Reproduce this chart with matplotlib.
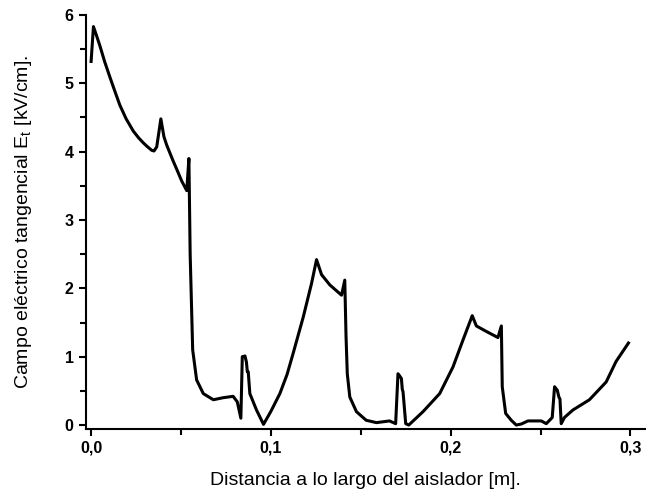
import matplotlib.pyplot as plt
from matplotlib.ticker import MultipleLocator, FuncFormatter

# distance along the insulator [m]
distancia = [
    0.0, 0.0013, 0.003, 0.005, 0.0075, 0.0106, 0.013, 0.016, 0.0195, 0.0235,
    0.0265, 0.029, 0.031, 0.0337, 0.035, 0.0365, 0.0388, 0.0405, 0.042, 0.044,
    0.0457, 0.048, 0.0504, 0.0532, 0.0544, 0.0551, 0.0565, 0.0587,
    0.0624, 0.068, 0.0735, 0.079, 0.0813, 0.0833, 0.0841, 0.0856, 0.0864,
    0.0869, 0.0874, 0.0883, 0.092, 0.0959, 0.1, 0.105, 0.109, 0.1124, 0.118,
    0.1226, 0.1254, 0.1282, 0.1328, 0.1393, 0.1411, 0.1418, 0.1425, 0.1439,
    0.1476, 0.153, 0.1587, 0.166, 0.1694, 0.1707, 0.1716, 0.1726, 0.1731,
    0.1735, 0.175, 0.1767, 0.1846, 0.1939, 0.2013, 0.2068, 0.212, 0.2143,
    0.2198, 0.2263, 0.2282, 0.2287, 0.2306, 0.2337, 0.2365, 0.2393, 0.243,
    0.2504, 0.2532, 0.2565, 0.2578, 0.2593, 0.2602, 0.2608, 0.2615, 0.2633,
    0.268, 0.2772, 0.2865, 0.292, 0.2989,
]

# tangential electric field [kV/cm]
campo = [
    5.32, 5.83, 5.70, 5.54, 5.32, 5.08, 4.90, 4.68, 4.48, 4.30,
    4.20, 4.13, 4.08, 4.02, 4.01, 4.07, 4.48, 4.22, 4.10, 3.97,
    3.86, 3.72, 3.57, 3.43, 3.90, 2.5, 1.10, 0.66,
    0.46, 0.37, 0.40, 0.42, 0.34, 0.10, 1.0, 1.01, 0.92,
    0.78, 0.78, 0.46, 0.22, 0.01, 0.20, 0.46, 0.74, 1.05, 1.58,
    2.07, 2.42, 2.20, 2.05, 1.90, 2.12, 1.30, 0.75, 0.41,
    0.195, 0.07, 0.035, 0.06, 0.02, 0.75, 0.72, 0.68, 0.52,
    0.49, 0.02, 0.0, 0.195, 0.46, 0.85, 1.24, 1.60, 1.45,
    1.37, 1.28, 1.45, 0.56, 0.17, 0.07, 0.0, 0.015, 0.06,
    0.06, 0.02, 0.11, 0.56, 0.51, 0.41, 0.38, 0.02, 0.11,
    0.22, 0.37, 0.63, 0.93, 1.20,
]

x_ticks = [0.0, 0.1, 0.2, 0.3]
y_ticks = [0, 1, 2, 3, 4, 5, 6]

plt.rcParams["font.family"] = ["Liberation Sans", "DejaVu Sans"]

fig = plt.figure(figsize=(6.46, 4.93), dpi=100)
ax = fig.add_axes([0.1324, 0.1308, 0.8666, 0.8388])

ax.plot(distancia, campo, color="black", linewidth=2.2, solid_joinstyle="round")

ax.set_xlim(-0.0031, 0.3083)
ax.set_ylim(-0.051, 6.0)
ax.set_xticks(x_ticks)
ax.set_yticks(y_ticks)
ax.xaxis.set_minor_locator(MultipleLocator(0.05))
ax.yaxis.set_minor_locator(MultipleLocator(0.5))
ax.xaxis.set_major_formatter(FuncFormatter(lambda v, p: f"{v:.1f}".replace(".", ",")))

for side in ["top", "right"]:
    ax.spines[side].set_visible(False)
for side in ["left", "bottom"]:
    ax.spines[side].set_linewidth(1.5)

ax.tick_params(which="both", direction="out", width=1.5, labelsize=11.5)
ax.tick_params(which="major", length=5)
ax.tick_params(which="minor", length=4)
for lbl in ax.get_xticklabels() + ax.get_yticklabels():
    lbl.set_fontweight("bold")

ax.set_xlabel("Distancia a lo largo del aislador [m].", fontsize=14, va="center")
ax.set_ylabel("Campo eléctrico tangencial E$_\\mathregular{t}$ [kV/cm].", fontsize=14, va="center")
ax.xaxis.set_label_coords(0.5, -0.125)
ax.yaxis.set_label_coords(-0.11, 0.5)

fig.savefig("out.png", dpi=100)
